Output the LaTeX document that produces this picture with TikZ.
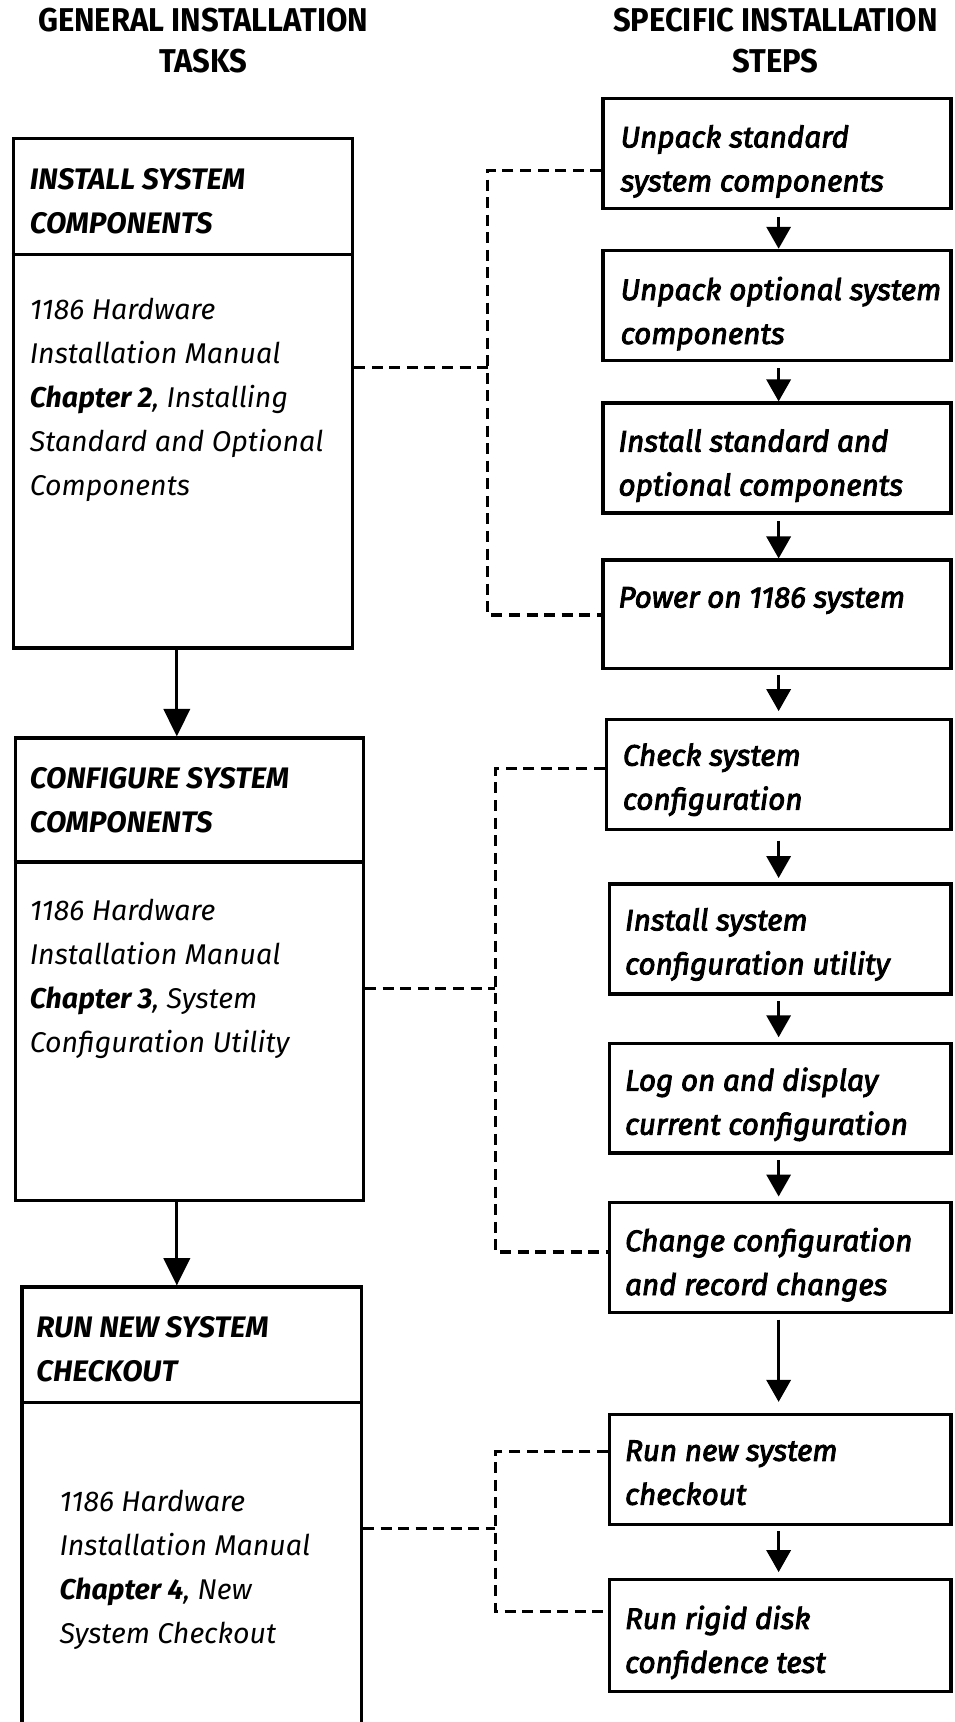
\documentclass[tikz,border=0pt]{standalone}
\usepackage{fontspec}
\setmainfont{Fira Sans}
\newfontfamily\hdfont{Fira Sans}[FakeStretch=0.94]
\newfontfamily\stepfont{Fira Sans}[ItalicFeatures={FakeBold=3}]
\usetikzlibrary{arrows.meta,calc}
\newcommand\mkbox[5]{\node[boxst,minimum width={(#4-#2)*1pt},minimum height={(#5-#3)*1pt}] (#1) at ({(#2+#4)/2},{(#3+#5)/2}) {};}
\begin{document}
\begin{tikzpicture}[x=1pt,y=-1pt,
  boxst/.style={draw,line width=3pt,inner sep=0pt,rectangle},
  dsh/.style={line width=2.8pt,dash pattern=on 10pt off 6pt},
  arr/.style={line width=2.6pt,-{Triangle[width=22pt,length=20pt]}},
  bigarr/.style={line width=2.6pt,-{Triangle[width=24pt,length=25pt]}},
  hd/.style={font=\hdfont\bfseries\fontsize{30}{37}\selectfont,align=center,anchor=north,inner sep=0pt},
  ttl/.style={font=\bfseries\itshape\fontsize{27}{40}\selectfont,align=left,anchor=north west,inner sep=0pt},
  bodytxt/.style={font=\itshape\fontsize{26}{40}\selectfont,align=left,anchor=north west,inner sep=0pt},
  steptxt/.style={font=\stepfont\itshape\fontsize{27}{40}\selectfont,align=left,anchor=north west,inner sep=0pt}]
\useasboundingbox (0,0) rectangle (869,1568);
% headers
\node[hd] (h1) at (185,3) {\strut GENERAL INSTALLATION\\TASKS};
\node[hd] (h2) at (706,3) {\strut SPECIFIC INSTALLATION\\STEPS};
% left boxes
\mkbox{L1}{12}{126}{321}{590}
\draw[line width=3pt] (L1.west |- 0,232) -- (L1.east |- 0,232);
\node[ttl] (L1t) at (27,144) {\strut INSTALL SYSTEM\\COMPONENTS};
\node[bodytxt] (L1b) at (27,263) {\strut 1186 Hardware\\Installation Manual\\{\bfseries Chapter 2}, Installing\\Standard and Optional\\Components};
\mkbox{L2}{14}{672}{331}{1093}
\draw[line width=3pt] (L2.west |- 0,785) -- (L2.east |- 0,785);
\node[ttl] (L2t) at (27,690) {\strut CONFIGURE SYSTEM\\COMPONENTS};
\node[bodytxt] (L2b) at (27,810) {\strut 1186 Hardware\\Installation Manual\\{\bfseries Chapter 3}, System\\Configuration Utility};
\mkbox{L3}{20}{1172}{329}{1600}
\draw[line width=3pt] (L3.west |- 0,1277) -- (L3.east |- 0,1277);
\node[ttl] (L3t) at (33,1190) {\strut RUN NEW SYSTEM\\CHECKOUT};
\node[bodytxt] (L3b) at (54,1348) {\strut 1186 Hardware\\Installation Manual\\{\bfseries Chapter 4}, New\\System Checkout};
% right boxes
\mkbox{R1}{549}{90}{866}{190}
\node[steptxt] (R1t) at (565,106) {\strut Unpack standard\\system components};
\mkbox{R2}{549}{228}{866}{328}
\node[steptxt] (R2t) at (565,245) {\strut Unpack optional system\\components};
\mkbox{R3}{549}{367}{866}{467}
\node[steptxt] (R3t) at (563,383) {\strut Install standard and\\optional components};
\mkbox{R4}{549}{510}{866}{609}
\node[steptxt] (R4t) at (563,525) {\strut Power on 1186 system};
\mkbox{R5}{552}{655}{866}{755}
\node[steptxt] (R5t) at (567,669) {\strut Check system\\configuration};
\mkbox{R6}{555}{805}{866}{905}
\node[steptxt] (R6t) at (569,819) {\strut Install system\\configuration utility};
\mkbox{R7}{555}{950}{866}{1050}
\node[steptxt] (R7t) at (569,965) {\strut Log on and display\\current configuration};
\mkbox{R8}{555}{1095}{866}{1195}
\node[steptxt] (R8t) at (569,1111) {\strut Change configuration\\and record changes};
\mkbox{R9}{555}{1288}{866}{1388}
\node[steptxt] (R9t) at (569,1302) {\strut Run new system\\checkout};
\mkbox{R10}{555}{1438}{866}{1540}
\node[steptxt] (R10t) at (569,1455) {\strut Run rigid disk\\confidence test};
% arrows
\coordinate (ax) at (709,0);
\coordinate (lx) at (161,0);
\draw[arr] ($(R1.south -| ax)+(0,6)$) -- (R2.north -| ax);
\draw[arr] ($(R2.south -| ax)+(0,6)$) -- (R3.north -| ax);
\draw[arr] ($(R3.south -| ax)+(0,6)$) -- (R4.north -| ax);
\draw[arr] ($(R4.south -| ax)+(0,4)$) -- ($(R5.north -| ax)+(0,-6)$);
\draw[arr] ($(R5.south -| ax)+(0,9)$) -- ($(R6.north -| ax)+(0,-4)$);
\draw[arr] ($(R6.south -| ax)+(0,5)$) -- ($(R7.north -| ax)+(0,-4)$);
\draw[arr] ($(R7.south -| ax)+(0,5)$) -- ($(R8.north -| ax)+(0,-4)$);
\draw[arr] ($(R8.south -| ax)+(0,5)$) -- ($(R9.north -| ax)+(0,-10)$);
\draw[arr] ($(R9.south -| ax)+(0,5)$) -- ($(R10.north -| ax)+(0,-5)$);
\draw[bigarr] (L1.south -| lx) -- (L2.north -| lx);
\draw[bigarr] (L2.south -| lx) -- (L3.north -| lx);
% dashed connectors
\coordinate (a1) at (444,155); \coordinate (b1) at (444,560); \coordinate (m1) at (444,335);
\draw[dsh] (R1.west |- a1) -- (a1) -- (b1) -- (R4.west |- b1);
\draw[dsh] (L1.east |- m1) -- (m1);
\coordinate (a2) at (451,700); \coordinate (b2) at (451,1140); \coordinate (m2) at (451,900);
\draw[dsh] (R5.west |- a2) -- (a2) -- (b2) -- (R8.west |- b2);
\draw[dsh] (L2.east |- m2) -- (m2);
\coordinate (a3) at (451,1322); \coordinate (b3) at (451,1467); \coordinate (m3) at (451,1392);
\draw[dsh] (R9.west |- a3) -- (a3) -- (b3) -- (R10.west |- b3);
\draw[dsh] (L3.east |- m3) -- (m3);
\end{tikzpicture}
\end{document}
